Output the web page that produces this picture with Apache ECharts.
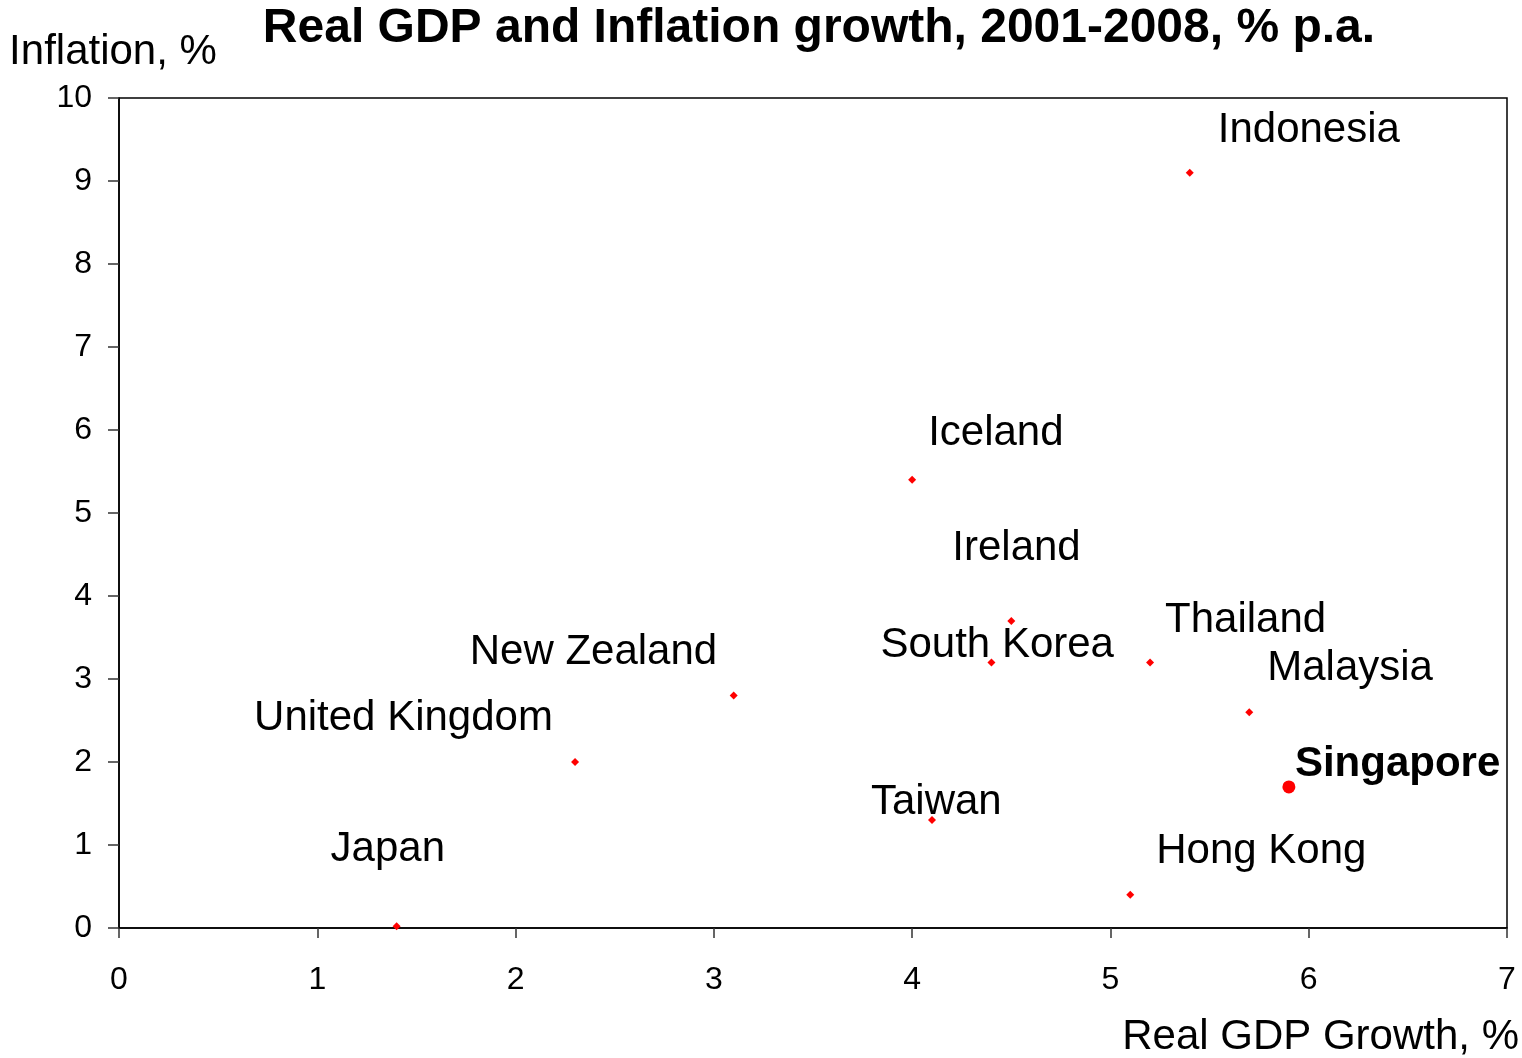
<!DOCTYPE html>
<html>
<head>
<meta charset="utf-8">
<script src="https://cdn.jsdelivr.net/npm/echarts@6/dist/echarts.min.js"></script>
<style>
html,body{margin:0;padding:0;background:#fff;}
#chart{width:1522px;height:1058px;}
</style>
</head>
<body>
<div id="chart"></div>
<script>
const countries = ["Indonesia","Iceland","Ireland","South Korea","Thailand","Malaysia","Singapore","Hong Kong","Taiwan","New Zealand","United Kingdom","Japan"];
const gdpGrowth = [5.4, 4.0, 4.5, 4.4, 5.2, 5.7, 5.9, 5.1, 4.1, 3.1, 2.3, 1.4];
const inflation = [9.1, 5.4, 3.7, 3.2, 3.2, 2.6, 1.7, 0.4, 1.3, 2.8, 2.0, 0.02];
const xTicks = [0,1,2,3,4,5,6,7];
const yTicks = [0,1,2,3,4,5,6,7,8,9,10];
const highlight = "Singapore";

// label placement (layout only): offset from point centre to label's left/middle
const labelOffsets = {
  "Indonesia":[28,-42], "Iceland":[16,-46], "Ireland":[-59,-72], "South Korea":[-111,-17],
  "Thailand":[15,-42], "Malaysia":[18,-44], "Singapore":[6,-22], "Hong Kong":[26,-43],
  "Taiwan":[-61,-18], "New Zealand":[-264,-43], "United Kingdom":[-321,-44], "Japan":[-66,-77]
};

const FONT = "Liberation Sans, Arial, sans-serif";

const data = countries.map((c,i)=>{
  const isH = c === highlight;
  return {
    name: c,
    value: [gdpGrowth[i], inflation[i]],
    symbol: isH ? 'circle' : 'diamond',
    symbolSize: isH ? 13 : 8,
    label: {
      show: true,
      formatter: c,
      position: 'inside',
      align: 'left',
      verticalAlign: 'middle',
      offset: labelOffsets[c],
      fontSize: 42,
      fontWeight: isH ? 'bold' : 'normal',
      color: '#000',
      opacity: 1,
      fontFamily: FONT
    }
  };
});

const chart = echarts.init(document.getElementById('chart'), null, {renderer:'canvas'});
chart.setOption({
  animation: false,
  backgroundColor: '#fff',
  title: {
    text: 'Real GDP and Inflation growth, 2001-2008, % p.a.',
    left: 814, textAlign: 'center', top: 0,
    textStyle: {fontSize: 48, fontWeight: 'bold', color: '#000', fontFamily: FONT}
  },
  grid: {left: 119, width: 1388, top: 98, height: 834, show: true, borderColor: '#000', borderWidth: 1.5, containLabel: false},
  xAxis: {
    type: 'value', min: xTicks[0], max: xTicks[xTicks.length-1], interval: 1,
    name: 'Real GDP Growth, %', nameLocation: 'end', nameGap: 12,
    nameTextStyle: {fontSize: 42, color: '#000', fontFamily: FONT, align: 'right', verticalAlign: 'top', padding: [88,0,0,0]},
    axisLine: {lineStyle: {color: '#000', width: 1.5}},
    axisTick: {show: true, inside: false, length: 10, lineStyle: {color: '#333', width: 1.5}},
    axisLabel: {fontSize: 32, color: '#000', fontFamily: FONT, margin: 36},
    splitLine: {show: false}
  },
  yAxis: {
    type: 'value', min: yTicks[0], max: yTicks[yTicks.length-1], interval: 1,
    name: 'Inflation, %', nameLocation: 'end', nameGap: 46,
    nameTextStyle: {fontSize: 42, color: '#000', fontFamily: FONT, align: 'center', verticalAlign: 'middle', padding: [0,12,0,0]},
    axisLine: {lineStyle: {color: '#000', width: 1.5}},
    axisTick: {show: true, inside: false, length: 11, lineStyle: {color: '#333', width: 1.5}},
    axisLabel: {fontSize: 32, color: '#000', fontFamily: FONT, margin: 27},
    splitLine: {show: false}
  },
  series: [{
    type: 'scatter',
    itemStyle: {color: '#ff0000', opacity: 1},
    data: data
  }]
});
</script>
</body>
</html>
